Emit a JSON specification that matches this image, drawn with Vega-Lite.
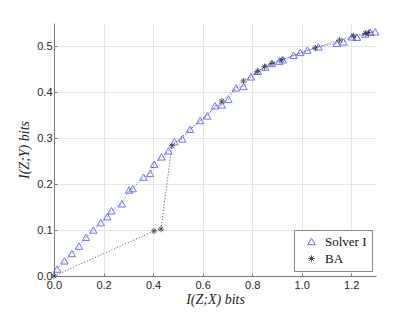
{
  "$schema": "https://vega.github.io/schema/vega-lite/v6.json",
  "width": 322,
  "height": 253,
  "autosize": {"type": "none"},
  "padding": {"left": 54, "top": 23, "right": 39, "bottom": 36},
  "background": "white",
  "config": {
    "view": {"stroke": null},
    "axis": {
      "labelFont": "Liberation Sans",
      "labelFontSize": 11,
      "labelColor": "#262626",
      "titleFont": "Liberation Serif",
      "titleFontSize": 14,
      "titleFontWeight": "normal",
      "titleFontStyle": "italic",
      "titleColor": "#262626",
      "domainColor": "#7a7a7a",
      "tickColor": "#7a7a7a",
      "tickSize": -3,
      "gridColor": "#e6e6e6",
      "labelPadding": 5
    }
  },
  "data": {
    "values": [
      {"s": "Solver I", "x": 0.013, "y": 0.015},
      {"s": "Solver I", "x": 0.042, "y": 0.033},
      {"s": "Solver I", "x": 0.072, "y": 0.049},
      {"s": "Solver I", "x": 0.101, "y": 0.065},
      {"s": "Solver I", "x": 0.129, "y": 0.084},
      {"s": "Solver I", "x": 0.159, "y": 0.100},
      {"s": "Solver I", "x": 0.189, "y": 0.116},
      {"s": "Solver I", "x": 0.215, "y": 0.129},
      {"s": "Solver I", "x": 0.232, "y": 0.142},
      {"s": "Solver I", "x": 0.274, "y": 0.157},
      {"s": "Solver I", "x": 0.303, "y": 0.187},
      {"s": "Solver I", "x": 0.318, "y": 0.190},
      {"s": "Solver I", "x": 0.361, "y": 0.215},
      {"s": "Solver I", "x": 0.388, "y": 0.223},
      {"s": "Solver I", "x": 0.404, "y": 0.243},
      {"s": "Solver I", "x": 0.434, "y": 0.259},
      {"s": "Solver I", "x": 0.462, "y": 0.272},
      {"s": "Solver I", "x": 0.486, "y": 0.292},
      {"s": "Solver I", "x": 0.518, "y": 0.298},
      {"s": "Solver I", "x": 0.549, "y": 0.319},
      {"s": "Solver I", "x": 0.590, "y": 0.338},
      {"s": "Solver I", "x": 0.619, "y": 0.348},
      {"s": "Solver I", "x": 0.650, "y": 0.370},
      {"s": "Solver I", "x": 0.678, "y": 0.372},
      {"s": "Solver I", "x": 0.704, "y": 0.384},
      {"s": "Solver I", "x": 0.735, "y": 0.409},
      {"s": "Solver I", "x": 0.765, "y": 0.412},
      {"s": "Solver I", "x": 0.795, "y": 0.433},
      {"s": "Solver I", "x": 0.823, "y": 0.445},
      {"s": "Solver I", "x": 0.853, "y": 0.454},
      {"s": "Solver I", "x": 0.880, "y": 0.462},
      {"s": "Solver I", "x": 0.910, "y": 0.467},
      {"s": "Solver I", "x": 0.924, "y": 0.470},
      {"s": "Solver I", "x": 0.967, "y": 0.480},
      {"s": "Solver I", "x": 0.994, "y": 0.486},
      {"s": "Solver I", "x": 1.023, "y": 0.491},
      {"s": "Solver I", "x": 1.068, "y": 0.498},
      {"s": "Solver I", "x": 1.142, "y": 0.506},
      {"s": "Solver I", "x": 1.169, "y": 0.509},
      {"s": "Solver I", "x": 1.203, "y": 0.520},
      {"s": "Solver I", "x": 1.223, "y": 0.519},
      {"s": "Solver I", "x": 1.257, "y": 0.526},
      {"s": "Solver I", "x": 1.277, "y": 0.530},
      {"s": "Solver I", "x": 1.297, "y": 0.531},
      {"s": "BA", "x": 0.0, "y": 0.0},
      {"s": "BA", "x": 0.404, "y": 0.098},
      {"s": "BA", "x": 0.432, "y": 0.102},
      {"s": "BA", "x": 0.476, "y": 0.283},
      {"s": "BA", "x": 0.678, "y": 0.380},
      {"s": "BA", "x": 0.765, "y": 0.424},
      {"s": "BA", "x": 0.821, "y": 0.444},
      {"s": "BA", "x": 0.850, "y": 0.455},
      {"s": "BA", "x": 0.880, "y": 0.462},
      {"s": "BA", "x": 0.920, "y": 0.470},
      {"s": "BA", "x": 1.055, "y": 0.496},
      {"s": "BA", "x": 1.153, "y": 0.513},
      {"s": "BA", "x": 1.209, "y": 0.522},
      {"s": "BA", "x": 1.257, "y": 0.527},
      {"s": "BA", "x": 1.270, "y": 0.529}
    ]
  },
  "encoding": {
    "x": {
      "field": "x", "type": "quantitative",
      "scale": {"domain": [0, 1.3], "nice": false, "zero": false},
      "axis": {"values": [0, 0.2, 0.4, 0.6, 0.8, 1, 1.2], "title": "I(Z;X) bits", "titlePadding": 2, "labelFlush": false, "labelPadding": 6}
    },
    "y": {
      "field": "y", "type": "quantitative",
      "scale": {"domain": [0, 0.55], "nice": false},
      "axis": {"values": [0, 0.1, 0.2, 0.3, 0.4, 0.5], "title": "I(Z;Y) bits", "titlePadding": 5, "labelFlush": false}
    },
    "color": {
      "field": "s", "type": "nominal",
      "scale": {"domain": ["Solver I", "BA"], "range": ["#3a3aff", "#222222"]},
      "legend": {
        "title": null,
        "orient": "none",
        "legendX": 240,
        "legendY": 207,
        "labelFont": "Liberation Serif",
        "labelFontSize": 13,
        "labelColor": "#111",
        "labelOffset": 7,
        "symbolOffset": 6,
        "strokeColor": "#888",
        "fillColor": "white",
        "padding": 5,
        "rowPadding": 3,
        "symbolStrokeWidth": 1,
        "symbolFillColor": "transparent"
      }
    }
  },
  "layer": [
    {
      "mark": {"type": "line", "strokeWidth": 1, "strokeDash": [1, 2], "opacity": 0.8},
      "encoding": {"detail": {"field": "s"}}
    },
    {
      "mark": {"type": "point", "filled": false, "strokeWidth": 1},
      "encoding": {
        "shape": {
          "field": "s", "type": "nominal",
          "scale": {"domain": ["Solver I", "BA"], "range": ["triangle-up", "M-1,0L1,0M0,-1L0,1M-0.7,-0.7L0.7,0.7M-0.7,0.7L0.7,-0.7"]}
        },
        "size": {
          "field": "s", "type": "nominal",
          "scale": {"domain": ["Solver I", "BA"], "range": [55, 40]}
        }
      }
    }
  ]
}
